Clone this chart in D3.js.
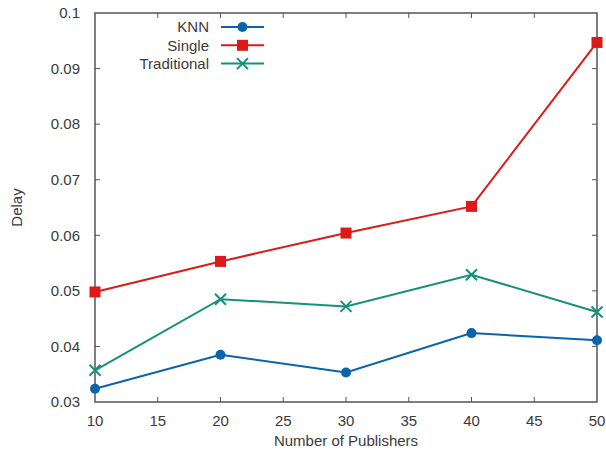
<!DOCTYPE html>
<html>
<head>
<meta charset="utf-8">
<script src="https://cdn.jsdelivr.net/npm/d3@7"></script>
<style>
  html, body { margin: 0; padding: 0; background: #fff; }
  svg { display: block; font-family: "Liberation Sans", Arial, sans-serif; }
</style>
</head>
<body>
<div id="chart"></div>
<script>
// data
const publishers = [10, 20, 30, 40, 50];
const knn = [0.0324, 0.0385, 0.0353, 0.0424, 0.0411];
const single = [0.0498, 0.0553, 0.0604, 0.0652, 0.0947];
const traditional = [0.0357, 0.0485, 0.0472, 0.0529, 0.0462];
const xTicks = [10, 15, 20, 25, 30, 35, 40, 45, 50];
const yTicks = [0.03, 0.04, 0.05, 0.06, 0.07, 0.08, 0.09, 0.1];

const series = [
  {name: 'KNN', values: knn, color: '#0a63ad', marker: 'circle'},
  {name: 'Single', values: single, color: '#dd1a1a', marker: 'square'},
  {name: 'Traditional', values: traditional, color: '#17907a', marker: 'cross'}
];

const width = 606;
const height = 454;
const margin = {top: 13, right: 9, bottom: 52, left: 95};
const axisColor = '#555';
const textColor = '#3a3a3a';

const x = d3.scaleLinear()
    .domain([10, 50])
    .range([margin.left, width - margin.right]);
const y = d3.scaleLinear()
    .domain([0.03, 0.1])
    .range([height - margin.bottom, margin.top]);

const svg = d3.select('#chart')
    .append('svg')
    .attr('width', width)
    .attr('height', height);

// frame
svg.append('rect')
    .attr('x', x(10))
    .attr('y', y(0.1))
    .attr('width', x(50) - x(10))
    .attr('height', y(0.03) - y(0.1))
    .attr('fill', 'none')
    .attr('stroke', axisColor)
    .attr('stroke-width', 1.5);

// inward ticks on all four sides
const tickLen = 5;
const ticks = svg.append('g')
    .attr('stroke', axisColor)
    .attr('stroke-width', 1);
ticks.selectAll('.xb')
    .data(xTicks.slice(1, -1))
    .join('line')
    .attr('x1', (d) => x(d)).attr('x2', (d) => x(d))
    .attr('y1', y(0.03)).attr('y2', y(0.03) - tickLen);
ticks.selectAll('.xt')
    .data(xTicks.slice(1, -1))
    .join('line')
    .attr('x1', (d) => x(d)).attr('x2', (d) => x(d))
    .attr('y1', y(0.1)).attr('y2', y(0.1) + tickLen);
ticks.selectAll('.yl')
    .data(yTicks.slice(1, -1))
    .join('line')
    .attr('x1', x(10)).attr('x2', x(10) + tickLen)
    .attr('y1', (d) => y(d)).attr('y2', (d) => y(d));
ticks.selectAll('.yr')
    .data(yTicks.slice(1, -1))
    .join('line')
    .attr('x1', x(50)).attr('x2', x(50) - tickLen)
    .attr('y1', (d) => y(d)).attr('y2', (d) => y(d));

// tick labels
svg.append('g')
    .selectAll('text')
    .data(xTicks)
    .join('text')
    .attr('x', (d) => x(d))
    .attr('y', y(0.03) + 24)
    .attr('text-anchor', 'middle')
    .attr('font-size', 15)
    .attr('fill', textColor)
    .text((d) => d);

svg.append('g')
    .selectAll('text')
    .data(yTicks)
    .join('text')
    .attr('x', x(10) - 15)
    .attr('y', (d) => y(d))
    .attr('dy', '0.35em')
    .attr('text-anchor', 'end')
    .attr('font-size', 15)
    .attr('fill', textColor)
    .text((d) => d3.format('~g')(d));

// axis titles
svg.append('text')
    .attr('x', (x(10) + x(50)) / 2)
    .attr('y', 446)
    .attr('text-anchor', 'middle')
    .attr('font-size', 15)
    .attr('fill', textColor)
    .text('Number of Publishers');

svg.append('text')
    .attr('transform', `translate(22,${(y(0.03) + y(0.1)) / 2}) rotate(-90)`)
    .attr('text-anchor', 'middle')
    .attr('font-size', 15)
    .attr('fill', textColor)
    .text('Delay');

const drawMarker = (g, s, cx, cy) => {
  if (s.marker === 'circle') {
    g.append('circle')
        .attr('cx', cx).attr('cy', cy).attr('r', 5)
        .attr('fill', s.color);
  } else if (s.marker === 'square') {
    g.append('rect')
        .attr('x', cx - 5.5).attr('y', cy - 5.5)
        .attr('width', 11).attr('height', 11)
        .attr('fill', s.color);
  } else {
    const r = 5.5;
    g.append('path')
        .attr('d', `M${cx - r},${cy - r}L${cx + r},${cy + r}M${cx - r},${cy + r}L${cx + r},${cy - r}`)
        .attr('stroke', s.color)
        .attr('stroke-width', 2)
        .attr('fill', 'none');
  }
};

const line = d3.line()
    .x((d, i) => x(publishers[i]))
    .y((d) => y(d));

series.forEach((s) => {
  const g = svg.append('g');
  g.append('path')
      .attr('d', line(s.values))
      .attr('fill', 'none')
      .attr('stroke', s.color)
      .attr('stroke-width', 2);
  s.values.forEach((v, i) => drawMarker(g, s, x(publishers[i]), y(v)));
});

// legend
const legend = svg.append('g');
series.forEach((s, i) => {
  const ly = 27 + i * 18.3;
  legend.append('text')
      .attr('x', 209)
      .attr('y', ly)
      .attr('dy', '0.35em')
      .attr('text-anchor', 'end')
      .attr('font-size', 15)
      .attr('fill', textColor)
      .text(s.name);
  legend.append('line')
      .attr('x1', 221).attr('x2', 264)
      .attr('y1', ly).attr('y2', ly)
      .attr('stroke', s.color)
      .attr('stroke-width', 2);
  drawMarker(legend, s, 242.5, ly);
});
</script>
</body>
</html>
